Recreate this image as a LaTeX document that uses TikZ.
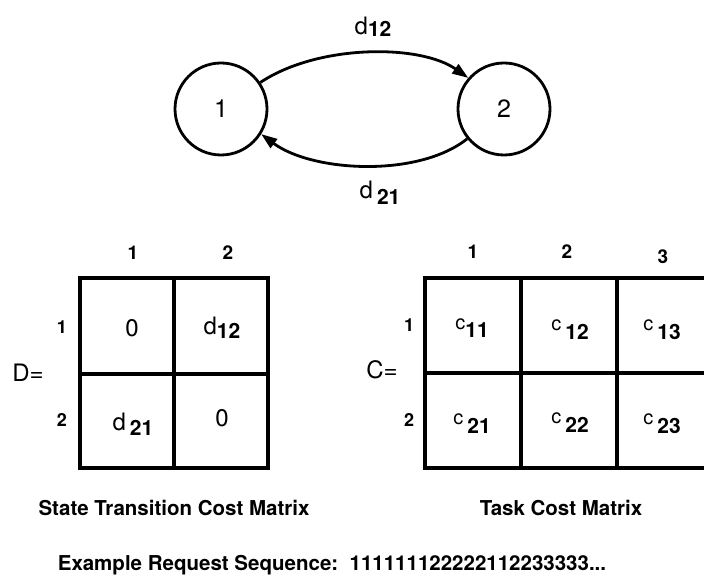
\documentclass[tikz,border=0pt]{standalone}
\usepackage{fontspec}
\setmainfont{TeX Gyre Heros}
\usetikzlibrary{arrows.meta}
\newcommand\mysub[1]{{\fontsize{21}{21}\selectfont\bfseries #1}}
\newcommand\mycc{{\fontsize{20}{20}\selectfont c}}
\begin{document}
\begin{tikzpicture}[x=1pt,y=-1pt,
  state/.style={circle,draw,line width=2.8pt,minimum size=92pt,inner sep=0pt,font=\fontsize{25}{25}\selectfont},
  arr/.style={line width=2.8pt,-{Triangle[length=16pt,width=11pt]}},
  grid/.style={line width=3.2pt},
  cell/.style={inner sep=0pt,font=\fontsize{24}{24}\selectfont},
  collbl/.style={inner sep=0pt,font=\fontsize{19}{19}\selectfont\bfseries},
  rowlbl/.style={inner sep=0pt,font=\fontsize{18}{18}\selectfont\bfseries},
  caption/.style={inner sep=0pt,font=\fontsize{20.5}{20.5}\selectfont\bfseries}]
\clip (0,0) rectangle (704,577);
\fill[white] (0,0) rectangle (704,577);
% state graph
\node[state] (s1) at (221,109) {1};
\node[state] (s2) at (504,109) {2};
\draw[arr] (s1.34) .. controls (318,44) and (420,44) .. (s2.139);
\draw[arr] (s2.219) .. controls (418,178) and (312,172) .. (s1.328);
\node[cell] (l12) at (373,27) {d\raisebox{-2pt}{\mysub{12}}};
\node[cell] (l21) at (380,193) {d\,\raisebox{-6pt}{\mysub{21}}};
% matrix D
\draw[grid] (80,278) rectangle (268,468);
\draw[grid] (174,278) -- (174,468);
\draw[grid] (80,374) -- (268,374);
\node[collbl] (dc1) at (133,253) {1};
\node[collbl] (dc2) at (228,253) {2};
\node[rowlbl] (dr1) at (62,327) {1};
\node[rowlbl] (dr2) at (62,420) {2};
\node[cell] (dname) at (28,373) {D=};
\node[cell] (d11) at (132,328) {0};
\node[cell] (d12) at (222,328) {d\raisebox{-3.5pt}{\mysub{12}}};
\node[cell] (d21) at (133,424) {d\,\raisebox{-5pt}{\mysub{21}}};
\node[cell] (d22) at (222,418) {0};
\node[caption] (dcap) at (174,508) {State Transition Cost Matrix};
% matrix C
\draw[grid] (425,278) rectangle (713,468);
\draw[grid] (521,278) -- (521,468);
\draw[grid] (617,278) -- (617,468);
\draw[grid] (425,373) -- (713,373);
\node[collbl] (cc1) at (473,252) {1};
\node[collbl] (cc2) at (567,252) {2};
\node[collbl] (cc3) at (663,257) {3};
\node[rowlbl] (cr1) at (409,325) {1};
\node[rowlbl] (cr2) at (409,420) {2};
\node[cell] (cname) at (382,370) {C=};
\node[cell] (c11) at (472,328) {\raisebox{5pt}{\mycc}\raisebox{-3pt}{\mysub{11}}};
\node[cell] (c12) at (570,330) {\raisebox{6pt}{\mycc}\,\raisebox{-3pt}{\mysub{12}}};
\node[cell] (c13) at (662,330) {\raisebox{6pt}{\mycc}\,\raisebox{-3pt}{\mysub{13}}};
\node[cell] (c21) at (472,424) {\raisebox{6pt}{\mycc}\,\raisebox{-3pt}{\mysub{21}}};
\node[cell] (c22) at (570,423) {\raisebox{6pt}{\mycc}\,\raisebox{-3pt}{\mysub{22}}};
\node[cell] (c23) at (662,424) {\raisebox{6pt}{\mycc}\,\raisebox{-3pt}{\mysub{23}}};
\node[caption] (ccap) at (561,508) {Task Cost Matrix};
% bottom line
\node[caption] (seq) at (332,565) {Example Request Sequence:\ \ 111111122222112233333...};
\end{tikzpicture}
\end{document}
